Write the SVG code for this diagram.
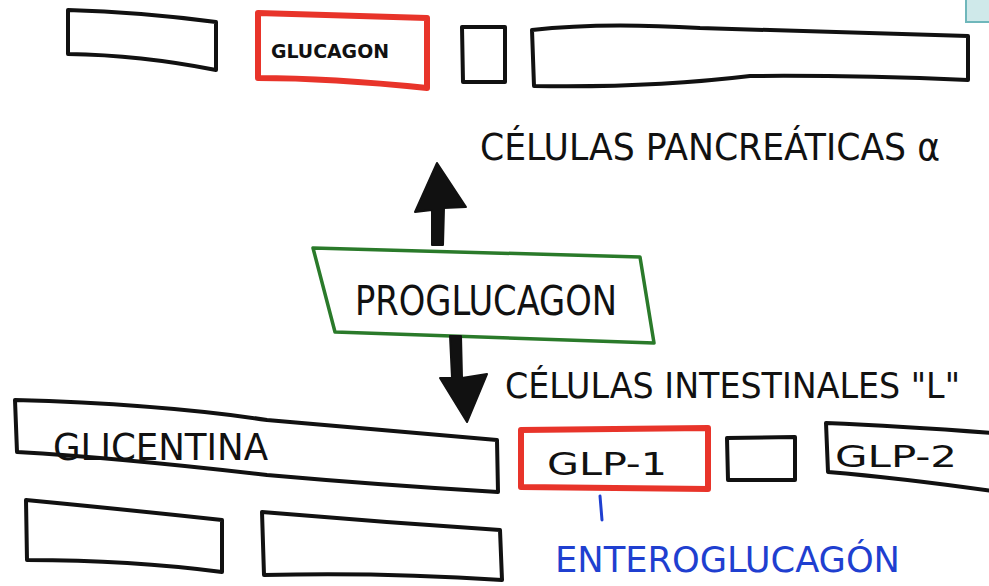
<svg xmlns="http://www.w3.org/2000/svg" width="989" height="586" viewBox="0 0 989 586">
<style>
.b{fill:#fff;stroke:#111;stroke-width:4;stroke-linejoin:round;stroke-linecap:round}
.r{fill:#fff;stroke:#e8342a;stroke-width:6;stroke-linejoin:round}
.g{fill:#fff;stroke:#2a7a2a;stroke-width:3.5;stroke-linejoin:round}
.t{font-family:"DejaVu Sans Condensed","Liberation Sans",sans-serif;fill:#111}
.bl{font-family:"DejaVu Sans Condensed","Liberation Sans",sans-serif;fill:#1f3fd0}
.a{fill:#111;stroke:#111;stroke-width:2;stroke-linejoin:round}
</style>
<rect width="989" height="586" fill="#fff"/>
<rect x="966" y="-2" width="30" height="24" fill="#cfe9ea" stroke="#6fb7bb" stroke-width="2"/>
<g id="top-box-1"><path class="b" d="M68,10 Q140,12 216,22 L216,70 Q140,55 68,54 Z"/></g>
<g id="glucagon"><path class="r" d="M258,13 L427,18 L427,88 Q330,78 258,78 Z"/><text class="t" x="330" y="58" font-size="20" font-weight="bold" text-anchor="middle" textLength="118" lengthAdjust="spacingAndGlyphs">GLUCAGON</text></g>
<g id="top-box-small"><path class="b" d="M462,27 L505,27 L505,82 L463,82 Z"/></g>
<g id="top-box-big"><path class="b" d="M532,30 Q600,22 700,28 Q850,32 968,36 L968,80 Q850,75 750,76 Q650,88 534,86 Z"/></g>
<g id="label-pancreaticas"><text class="t" x="480" y="160" font-size="38" textLength="460" lengthAdjust="spacingAndGlyphs">CÉLULAS PANCREÁTICAS α</text></g>
<g id="proglucagon"><path class="g" d="M313,248 L640,257 L654,343 L335,332 Z"/><text class="t" x="355" y="315" font-size="40" textLength="262" lengthAdjust="spacingAndGlyphs">PROGLUCAGON</text></g>
<g id="label-intestinales"><text class="t" x="505" y="398" font-size="36" textLength="455" lengthAdjust="spacingAndGlyphs">CÉLULAS INTESTINALES "L"</text></g>
<g id="glicentina"><path class="b" d="M15,400 Q160,404 267,420 Q400,432 497,440 L498,492 Q380,485 267,475 Q120,458 17,452 Z"/><text class="t" x="53" y="460" font-size="38" textLength="215" lengthAdjust="spacingAndGlyphs">GLICENTINA</text></g>
<g id="glp1"><path class="r" d="M521,430 L708,428 L708,489 L521,487 Z"/><text class="t" x="547" y="475" font-size="32" textLength="120" lengthAdjust="spacingAndGlyphs">GLP-1</text></g>
<g id="bottom-box-small"><path class="b" d="M727,438 L795,437 L795,480 L728,480 Z"/></g>
<g id="glp2"><path class="b" d="M826,423 Q900,426 992,433 L992,491 Q900,478 828,472 Z"/><text class="t" x="835" y="467" font-size="30" textLength="122" lengthAdjust="spacingAndGlyphs">GLP-2</text></g>
<g id="bottom-box-1"><path class="b" d="M26,500 Q130,510 222,520 L222,572 Q130,560 27,560 Z"/></g>
<g id="bottom-box-2"><path class="b" d="M262,512 Q380,522 500,530 L502,580 Q380,572 264,575 Z"/></g>
<g id="enteroglucagon"><text class="bl" x="555" y="572" font-size="36" textLength="345" lengthAdjust="spacingAndGlyphs">ENTEROGLUCAGÓN</text></g>
<g id="connectors">
<path class="a" d="M432,245 L432,210 L415,212 L437,163 L466,207 L444,208 L443,245 Z"/>
<path class="a" d="M450,336 L461,336 L462,378 L487,374 L467,422 L440,378 L452,378 Z"/>
<line x1="600" y1="496" x2="602" y2="520" stroke="#1f3fd0" stroke-width="3" stroke-linecap="round"/>
</g>
</svg>
